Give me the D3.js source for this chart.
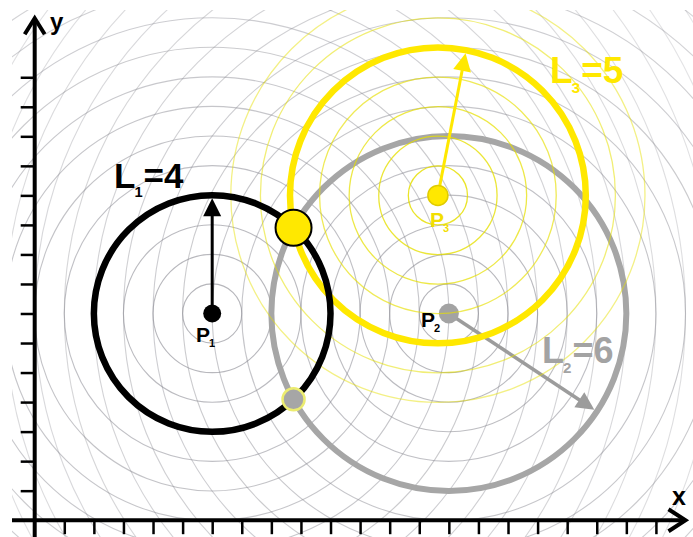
<!DOCTYPE html>
<html>
<head>
<meta charset="utf-8">
<script src="https://cdn.jsdelivr.net/npm/d3@7"></script>
<style>
  body { margin: 0; background: #fff; }
  svg { display: block; }
  text { font-family: "Liberation Sans", Arial, sans-serif; font-weight: bold; }
</style>
</head>
<body>
<div id="chart"></div>
<script>
// point names, centres and circle lengths
const pointNames = ["P", "P", "P"];
const pointSubs = ["1", "2", "3"];
const centerX = [6, 14, 13.63];
const centerY = [7, 7, 11];
const lengths = [4, 6, 5];
const arrowAngles = [90, -33.5, 79]; // degrees, direction of each radius arrow
const ringColors = ["#8c8c94", "#8c8c94", "#e6df00"];
const circleColors = ["#000000", "#a6a6a6", "#ffe800"];
const ringRadii = [d3.range(1, 21), d3.range(1, 21), d3.range(1, 8)];
const xTicks = d3.range(1, 22);
const yTicks = d3.range(1, 16);

const width = 693, height = 537;

const svg = d3.select("#chart").append("svg")
    .attr("width", width)
    .attr("height", height);

svg.append("rect").attr("width", width).attr("height", height).attr("fill", "#fff");

const x = d3.scaleLinear().domain([0, 22]).range([34.7, 685.5]);
const y = d3.scaleLinear().domain([0, 17]).range([520.2, 18.2]);
const unit = x(1) - x(0);

svg.append("clipPath").attr("id", "plotClip")
    .append("rect").attr("x", 12).attr("y", 10).attr("width", width - 12).attr("height", height - 10);

const points = centerX.map((cx, i) => ({
    cx, cy: centerY[i], L: lengths[i], angle: arrowAngles[i],
    name: pointNames[i], sub: pointSubs[i]
}));

const plot = svg.append("g").attr("clip-path", "url(#plotClip)");

function drawRings(i) {
    const p = points[i];
    plot.append("g").selectAll("circle")
        .data(ringRadii[i])
        .enter().append("circle")
        .attr("cx", x(p.cx))
        .attr("cy", y(p.cy))
        .attr("r", d => d * unit)
        .attr("fill", "none")
        .attr("stroke", ringColors[i])
        .attr("stroke-width", i === 2 ? 1.3 : 1.1)
        .attr("stroke-opacity", d => i === 2 ? 0.9 - d * 0.06 : Math.max(0.12, 0.66 - d * 0.023));
}

function drawCircle(i, w) {
    const p = points[i];
    plot.append("circle")
        .attr("cx", x(p.cx))
        .attr("cy", y(p.cy))
        .attr("r", p.L * unit)
        .attr("fill", "none")
        .attr("stroke", circleColors[i])
        .attr("stroke-width", w);
}

function drawArrow(i, color, lw) {
    const p = points[i];
    const a = p.angle * Math.PI / 180;
    const dx = Math.cos(a), dy = -Math.sin(a);
    const px = -dy, py = dx;
    const x0 = x(p.cx), y0 = y(p.cy);
    const tipR = p.L * unit - 3;
    const tx = x0 + dx * tipR, ty = y0 + dy * tipR;
    const hl = 18, hw = 9;
    const bx = tx - dx * hl, by = ty - dy * hl;
    plot.append("line")
        .attr("x1", x0).attr("y1", y0)
        .attr("x2", bx + dx * 2).attr("y2", by + dy * 2)
        .attr("stroke", color).attr("stroke-width", lw);
    plot.append("path")
        .attr("d", `M${tx},${ty}L${bx + px * hw},${by + py * hw}L${bx - px * hw},${by - py * hw}Z`)
        .attr("fill", color);
}

function drawDot(cx, cy, r, fill, stroke, sw) {
    plot.append("circle")
        .attr("cx", cx).attr("cy", cy).attr("r", r)
        .attr("fill", fill)
        .attr("stroke", stroke)
        .attr("stroke-width", sw);
}

// background rings
drawRings(0);
drawRings(1);

// P2 circle, arrow and dot
drawCircle(1, 6);
drawArrow(1, "#9c9c9c", 3.5);
drawDot(x(points[1].cx), y(points[1].cy), 10, "#a3a3a3", "none", 0);

// P3 rings, circle and arrow
drawRings(2);
drawCircle(2, 6.5);
drawArrow(2, "#ffe800", 3);

// P1 circle and arrow
drawCircle(0, 6.5);
drawArrow(0, "#000", 3);

drawDot(x(points[0].cx), y(points[0].cy), 9, "#000", "none", 0);
drawDot(x(points[2].cx), y(points[2].cy), 10, "#ffe800", "#e0cc00", 1.5);

// intersections of circles 1 and 2
const p1 = points[0], p2 = points[1];
const d = Math.hypot(p2.cx - p1.cx, p2.cy - p1.cy);
const a = (p1.L * p1.L - p2.L * p2.L + d * d) / (2 * d);
const h = Math.sqrt(p1.L * p1.L - a * a);
const mx = p1.cx + a * (p2.cx - p1.cx) / d;
const my = p1.cy + a * (p2.cy - p1.cy) / d;
const ix = [mx - h * (p2.cy - p1.cy) / d, mx + h * (p2.cy - p1.cy) / d];
const iy = [my + h * (p2.cx - p1.cx) / d, my - h * (p2.cx - p1.cx) / d];

drawDot(x(ix[0]), y(iy[0]), 18, "#ffe800", "#000", 2);
drawDot(x(ix[1]), y(iy[1]), 11, "#a6a6a6", "#ecec70", 2.5);

// axes
const axisG = svg.append("g");
axisG.append("line")
    .attr("x1", 12).attr("y1", y(0)).attr("x2", x(22) - 1).attr("y2", y(0))
    .attr("stroke", "#000").attr("stroke-width", 4);
axisG.append("line")
    .attr("x1", x(0)).attr("y1", height).attr("x2", x(0)).attr("y2", y(17) + 1)
    .attr("stroke", "#000").attr("stroke-width", 4);
axisG.append("path")
    .attr("d", `M${x(22) - 17},${y(0) - 11}L${x(22)},${y(0)}L${x(22) - 17},${y(0) + 11}`)
    .attr("fill", "none").attr("stroke", "#000").attr("stroke-width", 4);
axisG.append("path")
    .attr("d", `M${x(0) - 10},${y(17) + 16}L${x(0)},${y(17)}L${x(0) + 10},${y(17) + 16}`)
    .attr("fill", "none").attr("stroke", "#000").attr("stroke-width", 4);

const xAxis = svg.append("g")
    .attr("transform", `translate(0,${y(0)})`)
    .call(d3.axisBottom(x).tickValues(xTicks).tickSize(14).tickFormat(""));
const yAxis = svg.append("g")
    .attr("transform", `translate(${x(0)},0)`)
    .call(d3.axisLeft(y).tickValues(yTicks).tickSize(14).tickFormat(""));
[xAxis, yAxis].forEach(g => {
    g.select(".domain").remove();
    g.selectAll(".tick line").attr("stroke", "#000").attr("stroke-width", 2.5);
});

svg.append("text").attr("x", 50).attr("y", 30).attr("font-size", 24).text("y");
svg.append("text").attr("x", 672).attr("y", 505).attr("font-size", 25).text("x");

// L labels
function lenLabel(i, lx, ly, size, color) {
    const t = svg.append("text").attr("x", lx).attr("y", ly)
        .attr("font-size", size).attr("fill", color);
    t.append("tspan").text("L");
    t.append("tspan").attr("font-size", size * 0.42).attr("dx", -1).attr("dy", size * 0.27).text(points[i].sub);
    t.append("tspan").attr("dy", -size * 0.27).attr("dx", 1).text("=" + points[i].L);
}
lenLabel(0, 114, 188, 35, "#000");
lenLabel(1, 542, 363, 36, "#a3a3a3");
lenLabel(2, 550, 83, 37, "#ffe800");

// point labels
function pLabel(i, lx, ly, color) {
    const t = svg.append("text").attr("x", lx).attr("y", ly)
        .attr("font-size", 21).attr("fill", color);
    t.append("tspan").text(points[i].name);
    t.append("tspan").attr("font-size", 11).attr("dx", -1).attr("dy", 5).text(points[i].sub);
}
pLabel(0, 196, 342, "#000");
pLabel(1, 421, 327, "#000");
pLabel(2, 430, 227, "#f2de00");
</script>
</body>
</html>
